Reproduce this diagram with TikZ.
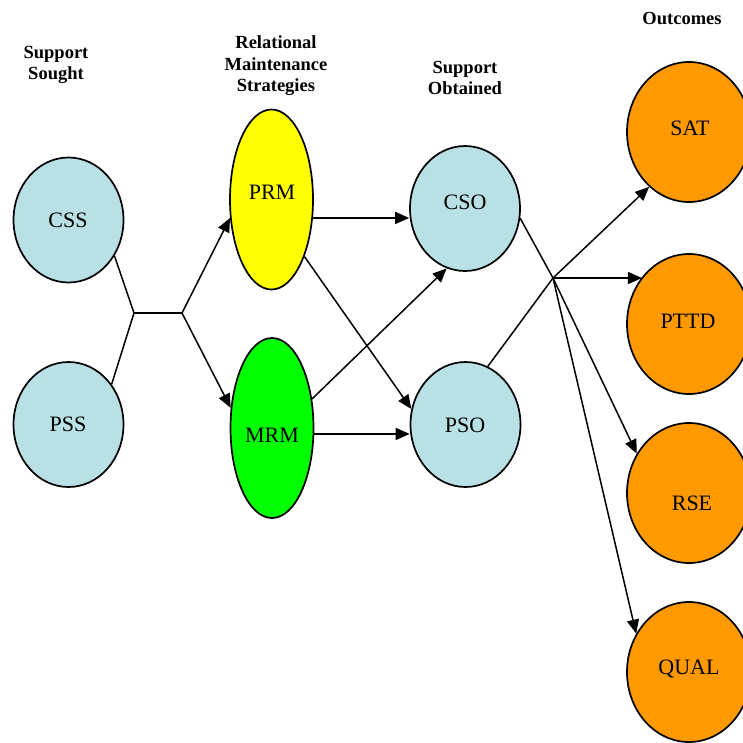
\documentclass[tikz,border=0pt]{standalone}
\usepackage{fontspec}
\setmainfont{Liberation Serif}
\newfontfamily\tnr{Liberation Serif}
\usetikzlibrary{shapes.geometric,arrows.meta}
\definecolor{blueish}{RGB}{185,224,228}
\definecolor{orangeish}{RGB}{255,153,0}
\definecolor{yellowish}{RGB}{255,255,0}
\definecolor{greenish}{RGB}{0,255,0}
\begin{document}
\begin{tikzpicture}[x=1pt,y=-1pt,
  oval/.style={ellipse,draw=black,line width=1.7pt,inner sep=0pt},
  blueoval/.style={oval,fill=blueish,minimum width=110pt,minimum height=125pt},
  tallyoval/.style={oval,minimum width=83pt,minimum height=180pt},
  orangeoval/.style={oval,fill=orangeish,minimum width=124pt,minimum height=140pt},
  lbl/.style={inner sep=0pt,font=\tnr\fontsize{22}{26}\selectfont},
  hdr/.style={inner sep=0pt,align=center,font=\tnr\fontsize{18.5}{21.5}\selectfont\bfseries},
  conn/.style={line width=1.5pt},
  arr/.style={conn,-{Triangle[length=14pt,width=12pt]}}]
\useasboundingbox (0,0) rectangle (743,742);
% ovals
\node[blueoval] (CSS) at (68.5,220) {};
\node[blueoval] (PSS) at (68.5,424.5) {};
\node[tallyoval,fill=yellowish] (PRM) at (271.5,199.5) {};
\node[tallyoval,fill=greenish] (MRM) at (272,428) {};
\node[blueoval] (CSO) at (465,208.5) {};
\node[blueoval] (PSO) at (465.5,424.5) {};
\node[orangeoval] (SAT) at (689,132) {};
\node[orangeoval] (PTTD) at (689,324) {};
\node[orangeoval] (RSE) at (689,493) {};
\node[orangeoval] (QUAL) at (689,672) {};
% labels
\node[lbl] (tCSS) at (68,220) {CSS};
\node[lbl] (tPSS) at (68,424) {PSS};
\node[lbl] (tPRM) at (272,192) {PRM};
\node[lbl] (tMRM) at (272,435) {MRM};
\node[lbl] (tCSO) at (465,202) {CSO};
\node[lbl] (tPSO) at (465,425) {PSO};
\node[lbl] (tSAT) at (690,128) {SAT};
\node[lbl] (tPTTD) at (688,321) {PTTD};
\node[lbl] (tRSE) at (692,503) {RSE};
\node[lbl] (tQUAL) at (689,669) {QUAL};
% headers
\node[hdr] (hSS) at (56,65) {Support\\Sought};
\node[hdr] (hRMS) at (276,66) {Relational\\Maintenance\\Strategies};
\node[hdr] (hSO) at (465,78) {Support\\Obtained};
\node[hdr] (hOut) at (682,18) {Outcomes};
% junctions
\coordinate (J1) at (134,313);
\coordinate (J2) at (182,313);
\coordinate (J) at (553,278);
% connectors
\draw[conn] (CSS.-38.5) -- (J1) -- (PSS.43);
\draw[conn] (J1) -- (J2);
\draw[arr] (J2) -- (PRM.-156);
\draw[arr] (J2) -- (MRM.154.5);
\draw[arr] (PRM.-24.5) -- (PRM.-24.5 -| CSO.west);
\draw[arr] (PRM.-60) -- (PSO.164);
\draw[arr] (MRM.36) -- (CSO.-107);
\draw[arr] (MRM.-8) -- (MRM.-8 -| PSO.west);
\draw[conn] (CSO.-10) -- (J);
\draw[conn] (PSO.69) -- (J);
\draw[arr] (J) -- (SAT.-126);
\draw[arr] (J) -- (J -| PTTD.135.4);
\draw[arr] (J) -- (RSE.143);
\draw[arr] (J) -- (QUAL.144.5);
\end{tikzpicture}
\end{document}
